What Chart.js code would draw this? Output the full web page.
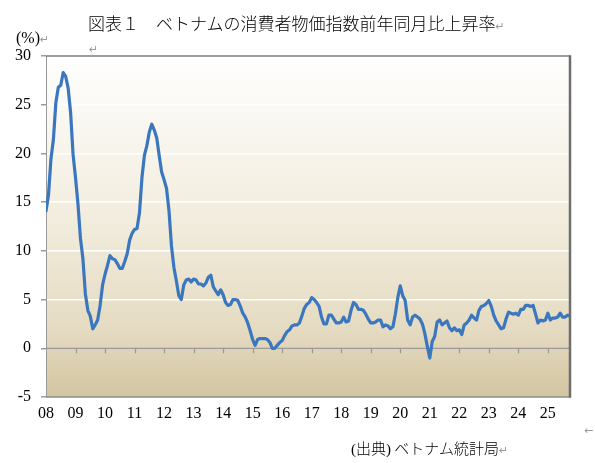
<!DOCTYPE html>
<html>
<head>
<meta charset="utf-8">
<script src="https://cdn.jsdelivr.net/npm/chart.js@4.4.1/dist/chart.umd.min.js"></script>
<style>
  html, body { margin:0; padding:0; background:#fff; }
  #wrap { position:relative; width:595px; height:463px; overflow:hidden; }
  #c { position:absolute; left:0; top:0; }
  .t { position:absolute; white-space:nowrap; color:#000; }
  .mark { color:#9a9a9a; font-size:11px; font-family:"DejaVu Sans", sans-serif; font-weight:normal; }
</style>
</head>
<body>
<div id="wrap">
  <canvas id="c" width="595" height="463"></canvas>
  <div class="t" style="left:88px; top:10px; font-family:'Noto Sans CJK JP'; font-weight:300; font-size:17px;">図表１　ベトナムの消費者物価指数前年同月比上昇率<span class="mark">↵</span></div>
  <div class="t" style="left:16px; top:29px; font-family:'Liberation Serif'; font-size:16px;">(%)<span class="mark">↵</span></div>
  <div class="t mark" style="left:89px; top:43px;">↵</div>
  <div class="t mark" style="left:584px; top:424px;">←</div>
  <div class="t" style="left:351px; top:437px; font-family:'Noto Sans CJK JP'; font-weight:300; font-size:15px;"><span style="font-family:'Liberation Serif'">(</span>出典<span style="font-family:'Liberation Serif'">)</span> ベトナム統計局<span class="mark">↵</span></div>
</div>
<script>
// Tick labels (years, January positions)
const yearLabels = ['08','09','10','11','12','13','14','15','16','17','18','19','20','21','22','23','24','25'];
const yTicks = [-5, 0, 5, 10, 15, 20, 25, 30];

// Monthly CPI year-on-year (%), Jan..Dec
const y2008 = [14.1, 15.7, 19.4, 21.4, 25.2, 26.8, 27.0, 28.3, 27.9, 26.7, 24.2, 19.9];
const y2009 = [17.5, 14.8, 11.3, 9.2, 5.6, 3.9, 3.3, 2.0, 2.4, 2.9, 4.4, 6.5];
const y2010 = [7.6, 8.5, 9.5, 9.2, 9.1, 8.7, 8.2, 8.2, 8.9, 9.7, 11.1, 11.8];
const y2011 = [12.2, 12.3, 13.9, 17.5, 19.8, 20.8, 22.2, 23.0, 22.4, 21.6, 19.8, 18.1];
const y2012 = [17.3, 16.4, 14.1, 10.5, 8.3, 6.9, 5.4, 5.0, 6.5, 7.0, 7.1, 6.8];
const y2013 = [7.1, 7.0, 6.6, 6.6, 6.4, 6.7, 7.3, 7.5, 6.3, 5.9, 5.5, 6.0];
const y2014 = [5.5, 4.7, 4.4, 4.5, 5.0, 5.0, 4.9, 4.3, 3.6, 3.2, 2.6, 1.8];
const y2015 = [0.9, 0.3, 0.9, 1.0, 1.0, 1.0, 0.9, 0.6, 0.0, 0.0, 0.3, 0.6];
const y2016 = [0.8, 1.3, 1.7, 1.9, 2.3, 2.4, 2.4, 2.6, 3.3, 4.1, 4.5, 4.7];
const y2017 = [5.2, 5.0, 4.7, 4.3, 3.2, 2.5, 2.5, 3.4, 3.4, 3.0, 2.6, 2.6];
const y2018 = [2.7, 3.2, 2.7, 2.8, 3.9, 4.7, 4.5, 4.0, 4.0, 3.9, 3.5, 3.0];
const y2019 = [2.6, 2.6, 2.7, 2.9, 2.9, 2.2, 2.4, 2.3, 2.0, 2.2, 3.5, 5.2];
const y2020 = [6.4, 5.4, 4.9, 2.9, 2.4, 3.2, 3.4, 3.2, 3.0, 2.5, 1.5, 0.2];
const y2021 = [-1.0, 0.7, 1.2, 2.7, 2.9, 2.4, 2.6, 2.8, 2.1, 1.8, 2.1, 1.8];
const y2022 = [1.9, 1.4, 2.4, 2.6, 2.9, 3.4, 3.1, 2.9, 3.9, 4.3, 4.4, 4.6];
const y2023 = [4.9, 4.3, 3.4, 2.8, 2.4, 2.0, 2.1, 3.0, 3.7, 3.6, 3.5, 3.6];
const y2024 = [3.4, 4.0, 4.0, 4.4, 4.4, 4.3, 4.4, 3.5, 2.6, 2.9, 2.8, 2.9];
const y2025 = [3.6, 2.9, 3.1, 3.1, 3.2, 3.6, 3.2, 3.2, 3.4, 3.3];

const cpi = [].concat(y2008, y2009, y2010, y2011, y2012, y2013, y2014, y2015, y2016,
  y2017, y2018, y2019, y2020, y2021, y2022, y2023, y2024, y2025);
const points = cpi.map((v, i) => ({ x: i, y: v }));

const bgPlugin = {
  id: 'bg',
  beforeDraw(chart) {
    const { ctx, chartArea: a } = chart;
    const g = ctx.createLinearGradient(0, a.top, 0, a.bottom);
    g.addColorStop(0, '#FEFEFD');
    g.addColorStop(0.45, '#F3EEE0');
    g.addColorStop(0.8, '#E5DBC2');
    g.addColorStop(1, '#D3C5A1');
    ctx.save();
    ctx.fillStyle = g;
    ctx.fillRect(a.left, a.top, a.right - a.left, a.bottom - a.top);
    ctx.restore();
  },
  beforeDatasetsDraw(chart) {
    const { ctx, chartArea: a, scales } = chart;
    const y0 = scales.y.getPixelForValue(0);
    ctx.save();
    ctx.strokeStyle = '#9a9a9a';
    ctx.lineWidth = 1.3;
    ctx.beginPath();
    ctx.moveTo(a.left, y0);
    ctx.lineTo(a.right, y0);
    yearLabels.forEach((_, k) => {
      if (k === 0) return;
      const px = Math.round(scales.x.getPixelForValue(k * 12)) + 0.5;
      ctx.moveTo(px, y0);
      ctx.lineTo(px, y0 + 5);
    });
    ctx.stroke();
    ctx.restore();
  },
  afterDatasetsDraw(chart) {
    const { ctx, chartArea: a } = chart;
    ctx.save();
    ctx.strokeStyle = '#7d7d7d';
    ctx.lineWidth = 1.5;
    ctx.beginPath();
    ctx.moveTo(a.left, a.top);
    ctx.lineTo(a.right, a.top);
    ctx.stroke();
    ctx.strokeStyle = '#8c8c8c';
    ctx.beginPath();
    ctx.moveTo(a.left, a.bottom);
    ctx.lineTo(a.right, a.bottom);
    ctx.stroke();
    ctx.strokeStyle = '#6e6e6e';
    ctx.lineWidth = 2.5;
    ctx.beginPath();
    ctx.moveTo(a.right, a.top - 0.75);
    ctx.lineTo(a.right, a.bottom + 0.75);
    ctx.stroke();
    ctx.restore();
  }
};

new Chart(document.getElementById('c'), {
  type: 'line',
  data: {
    datasets: [{
      data: points,
      borderColor: '#3B77BE',
      borderWidth: 3.2,
      pointRadius: 0,
      tension: 0,
      fill: false,
      borderJoinStyle: 'round',
      borderCapStyle: 'round'
    }]
  },
  options: {
    responsive: false,
    animation: false,
    devicePixelRatio: 1,
    layout: { padding: { top: 56, right: 25, left: 0, bottom: 36 } },
    plugins: { legend: { display: false }, tooltip: { enabled: false }, title: { display: false } },
    scales: {
      x: {
        type: 'linear',
        min: 0,
        max: cpi.length - 1,
        afterBuildTicks: s => { s.ticks = yearLabels.map((_, k) => ({ value: k * 12 })); },
        afterFit: s => { s.height = 30; },
        grid: { display: false, drawTicks: false },
        border: { display: false },
        ticks: {
          padding: 7,
          maxRotation: 0,
          autoSkip: false,
          color: '#000',
          font: { family: 'Liberation Serif', size: 16 },
          callback: v => yearLabels[Math.round(v / 12)]
        }
      },
      y: {
        min: -5,
        max: 30,
        afterBuildTicks: s => { s.ticks = yTicks.map(v => ({ value: v })); },
        afterFit: s => { s.width = 46; },
        grid: {
          color: c => (c.tick && c.tick.value > 0 && c.tick.value < 30) ? '#FFFFFF' : 'rgba(0,0,0,0)',
          lineWidth: 1.5,
          tickColor: '#9a9a9a',
          tickLength: 5,
          drawTicks: true
        },
        border: { display: true, color: '#9a9a9a', width: 1 },
        ticks: {
          padding: 10,
          color: '#000',
          font: { family: 'Liberation Serif', size: 16 },
          callback: v => String(v)
        }
      }
    }
  },
  plugins: [bgPlugin]
});
</script>
</body>
</html>
